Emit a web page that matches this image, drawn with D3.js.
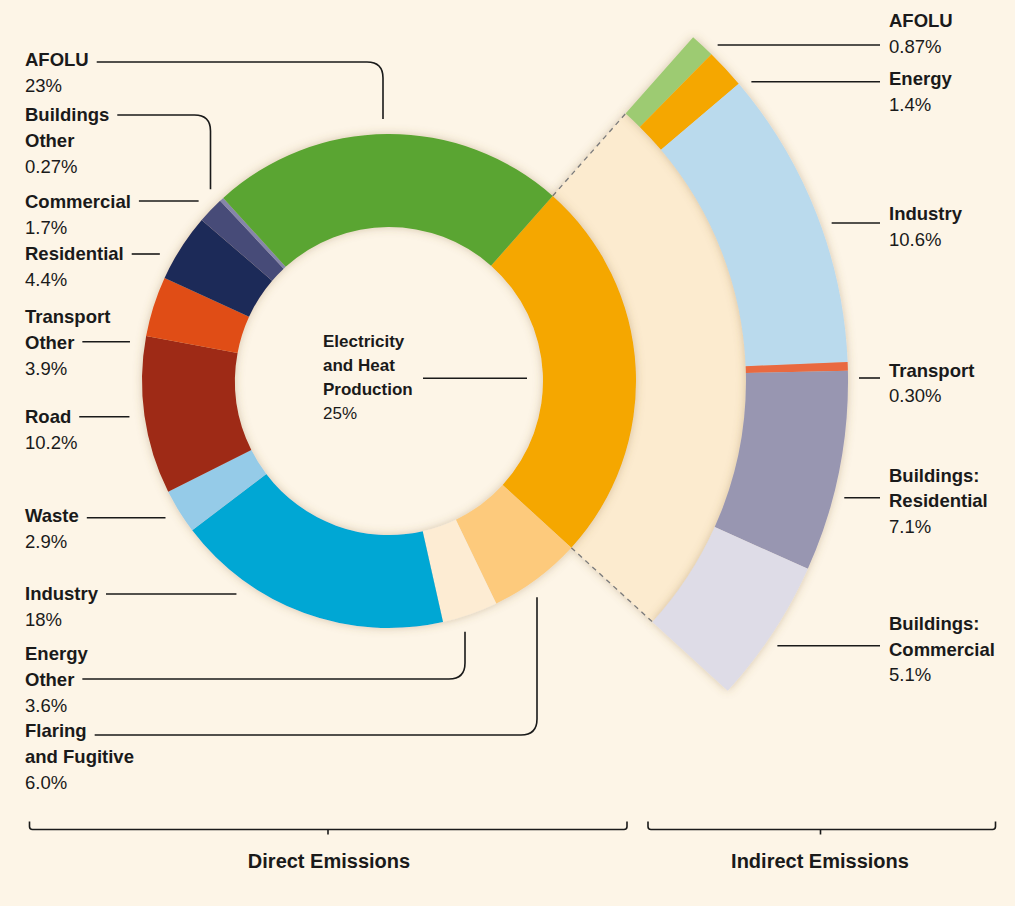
<!DOCTYPE html>
<html>
<head>
<meta charset="utf-8">
<script src="https://cdn.jsdelivr.net/npm/d3@7/dist/d3.min.js"></script>
<style>
  html, body { margin: 0; padding: 0; background: #ffffff; }
  svg { display: block; }
  text { font-family: "Liberation Sans", Arial, sans-serif; fill: #1a1a1a; }
</style>
</head>
<body>
<svg id="chart" width="1024" height="906"></svg>
<script>
// ---------------- DATA ----------------
const directCategories = ["Electricity and Heat Production", "Flaring and Fugitive", "Energy Other", "Industry", "Waste", "Road", "Transport Other", "Residential", "Commercial", "Buildings Other", "AFOLU"];
const directValues = [25, 6.0, 3.6, 18, 2.9, 10.2, 3.9, 4.4, 1.7, 0.27, 23];
const directValueLabels = ["25%", "6.0%", "3.6%", "18%", "2.9%", "10.2%", "3.9%", "4.4%", "1.7%", "0.27%", "23%"];

const indirectCategories = ["AFOLU", "Energy", "Industry", "Transport", "Buildings: Residential", "Buildings: Commercial"];
const indirectValues = [0.87, 1.4, 10.6, 0.30, 7.1, 5.1];
const indirectValueLabels = ["0.87%", "1.4%", "10.6%", "0.30%", "7.1%", "5.1%"];

const groupLabels = ["Direct Emissions", "Indirect Emissions"];

// ---------------- STYLE / LAYOUT ----------------
const directColors = {
  "Electricity and Heat Production": "#f5a700",
  "Flaring and Fugitive": "#fdca7c",
  "Energy Other": "#fdecd3",
  "Industry": "#00a7d4",
  "Waste": "#95cbe8",
  "Road": "#9e2b19",
  "Transport Other": "#e04e15",
  "Residential": "#1f2c59",
  "Commercial": "#474b78",
  "Buildings Other": "#8586aa",
  "AFOLU": "#5aa532"
};
const indirectColors = {
  "AFOLU": "#9dcb72",
  "Energy": "#f5a700",
  "Industry": "#badaed",
  "Transport": "#e9693f",
  "Buildings: Residential": "#9896b1",
  "Buildings: Commercial": "#dedce7"
};

// label layout: text lines, first baseline, leader line y, optional elbow x
const directLabelLayout = {
  "AFOLU": { lines: ["AFOLU"], y0: 65.7, ly: 62, elbowX: 383 },
  "Buildings Other": { lines: ["Buildings", "Other"], y0: 120.7, ly: 115, elbowX: 210.5 },
  "Commercial": { lines: ["Commercial"], y0: 208.3, ly: 201 },
  "Residential": { lines: ["Residential"], y0: 260, ly: 254 },
  "Transport Other": { lines: ["Transport", "Other"], y0: 322.7, ly: 341.7, attach: 1 },
  "Road": { lines: ["Road"], y0: 423.3, ly: 416.7 },
  "Waste": { lines: ["Waste"], y0: 522.3, ly: 517.7 },
  "Industry": { lines: ["Industry"], y0: 600, ly: 594 },
  "Energy Other": { lines: ["Energy", "Other"], y0: 660, ly: 679, attach: 1, elbowX: 465 },
  "Flaring and Fugitive": { lines: ["Flaring", "and Fugitive"], y0: 736.7, ly: 735, elbowX: 537 }
};
const centerLabelLayout = { lines: ["Electricity", "and Heat", "Production"], x: 323, y0: 346.7, lh: 24, ly: 378.3, lx1: 423, lx2: 527 };
const indirectLabelLayout = {
  "AFOLU": { lines: ["AFOLU"], y0: 27.3, ly: 45 },
  "Energy": { lines: ["Energy"], y0: 85, ly: 81.7 },
  "Industry": { lines: ["Industry"], y0: 220, ly: 223 },
  "Transport": { lines: ["Transport"], y0: 376.7, ly: 378 },
  "Buildings: Residential": { lines: ["Buildings:", "Residential"], y0: 481.7, ly: 497.7 },
  "Buildings: Commercial": { lines: ["Buildings:", "Commercial"], y0: 630, ly: 645.7 }
};

const W = 1024, H = 906;
const cx = 389, cy = 381;
const rIn = 154, rOut = 247, rBandOut = 357, rRingOut = 459;
const leftX = 25, rightX = 889;
const leftLH = 26, rightLH = 25.5;
const fsLabel = 18.5;

const svg = d3.select("#chart");

// background
svg.append("rect").attr("x", 0).attr("y", 0).attr("width", 1015).attr("height", H).attr("fill", "#fdf5e7");

// shadow filter
const defs = svg.append("defs");
const f = defs.append("filter").attr("id", "shadow").attr("x", "-20%").attr("y", "-20%").attr("width", "140%").attr("height", "140%");
f.append("feGaussianBlur").attr("in", "SourceAlpha").attr("stdDeviation", 5).attr("result", "blur");
f.append("feFlood").attr("flood-color", "#8a6a3a").attr("flood-opacity", 0.35).attr("result", "col");
f.append("feComposite").attr("in", "col").attr("in2", "blur").attr("operator", "in").attr("result", "sh");
const fm = f.append("feMerge");
fm.append("feMergeNode").attr("in", "sh");
fm.append("feMergeNode").attr("in", "SourceGraphic");

const g = svg.append("g").attr("transform", `translate(${cx},${cy})`);

// direct pie
const startA = 41.5 * Math.PI / 180;
const directData = directCategories.map((c, i) => ({ cat: c, value: directValues[i], label: directValueLabels[i] }));
const pie = d3.pie().sort(null).value(d => d.value).startAngle(startA).endAngle(startA + 2 * Math.PI);
const directArcs = pie(directData);
const elec = directArcs[0];

// tan band behind indirect ring
const bandArc = d3.arc().innerRadius(rOut).outerRadius(rBandOut);
g.append("path")
  .attr("d", bandArc({ startAngle: elec.startAngle, endAngle: elec.endAngle }))
  .attr("fill", "#fcebcf")
  .attr("filter", "url(#shadow)");

// indirect ring
const indirectData = indirectCategories.map((c, i) => ({ cat: c, value: indirectValues[i], label: indirectValueLabels[i] }));
const pie2 = d3.pie().sort(null).value(d => d.value).startAngle(elec.startAngle).endAngle(elec.endAngle);
const indirectArcs = pie2(indirectData);
const ringArc = d3.arc().innerRadius(rBandOut).outerRadius(rRingOut);
const ringG = g.append("g").attr("filter", "url(#shadow)");
ringG.selectAll("path").data(indirectArcs).join("path")
  .attr("d", ringArc)
  .attr("fill", d => indirectColors[d.data.cat]);

// dashed connectors
[elec.startAngle, elec.endAngle].forEach(a => {
  g.append("line")
    .attr("x1", rOut * Math.sin(a)).attr("y1", -rOut * Math.cos(a))
    .attr("x2", rBandOut * Math.sin(a)).attr("y2", -rBandOut * Math.cos(a))
    .attr("stroke", "#7a7a7a").attr("stroke-width", 1.3).attr("stroke-dasharray", "5,4.5");
});

// donut
const donutArc = d3.arc().innerRadius(rIn).outerRadius(rOut);
const donutG = g.append("g").attr("filter", "url(#shadow)");
donutG.selectAll("path").data(directArcs).join("path")
  .attr("d", donutArc)
  .attr("fill", d => directColors[d.data.cat]);

// ---------- labels ----------
const lineStroke = "#1a1a1a", lineW = 1.6;
function writeLabel(x, y0, lh, lines, pct, fs) {
  const t = svg.append("text").attr("x", x).attr("y", y0).style("font-size", fs + "px");
  lines.forEach((ln, i) => {
    t.append("tspan").attr("x", x).attr("y", y0 + i * lh).style("font-weight", "bold").text(ln);
  });
  t.append("tspan").attr("x", x).attr("y", y0 + lines.length * lh).style("font-weight", "normal").text(pct);
  return t;
}
function textWidth(str, fs, weight) {
  const tmp = svg.append("text").style("font-size", fs + "px").style("font-weight", weight).text(str);
  const w = tmp.node().getComputedTextLength();
  tmp.remove();
  return w;
}

const leaderR = 262;
directArcs.slice(1).forEach(d => {
  const L = directLabelLayout[d.data.cat];
  writeLabel(leftX, L.y0, leftLH, L.lines, d.data.label, fsLabel);
  const attach = L.attach || 0;
  const startX = leftX + textWidth(L.lines[attach], fsLabel, "bold") + 8;
  if (L.elbowX !== undefined) {
    const dxe = L.elbowX - cx;
    const dyE = Math.sqrt(leaderR * leaderR - dxe * dxe);
    const mid = (d.startAngle + d.endAngle) / 2;
    const below = Math.cos(mid) < 0;
    const yEnd = below ? cy + dyE : cy - dyE;
    const rc = 16;
    const sgn = below ? 1 : -1; // direction from end to label row
    const p = d3.path();
    p.moveTo(startX, L.ly);
    p.lineTo(L.elbowX - rc, L.ly);
    p.quadraticCurveTo(L.elbowX, L.ly, L.elbowX, L.ly - sgn * rc);
    p.lineTo(L.elbowX, yEnd);
    svg.append("path").attr("d", p.toString()).attr("fill", "none").attr("stroke", lineStroke).attr("stroke-width", lineW);
  } else {
    const dy = L.ly - cy;
    const xEnd = cx - Math.sqrt(leaderR * leaderR - dy * dy);
    svg.append("line").attr("x1", startX).attr("y1", L.ly).attr("x2", xEnd).attr("y2", L.ly)
      .attr("stroke", lineStroke).attr("stroke-width", lineW);
  }
});

// center label
const C = centerLabelLayout;
writeLabel(C.x, C.y0, C.lh, C.lines, elec.data.label, 17);
svg.append("line").attr("x1", C.lx1).attr("y1", C.ly).attr("x2", C.lx2).attr("y2", C.ly)
  .attr("stroke", lineStroke).attr("stroke-width", lineW);

// right labels
const rightLeaderR = 470;
indirectArcs.forEach(d => {
  const L = indirectLabelLayout[d.data.cat];
  writeLabel(rightX, L.y0, rightLH, L.lines, d.data.label, fsLabel);
  const dy = L.ly - cy;
  const xStart = cx + Math.sqrt(rightLeaderR * rightLeaderR - dy * dy);
  svg.append("line").attr("x1", xStart).attr("y1", L.ly).attr("x2", rightX - 9).attr("y2", L.ly)
    .attr("stroke", lineStroke).attr("stroke-width", lineW);
});

// brackets
function bracket(x1, x2, xm, y) {
  const p = d3.path();
  p.moveTo(x1, y - 8);
  p.lineTo(x1, y - 3);
  p.quadraticCurveTo(x1, y, x1 + 3, y);
  p.lineTo(x2 - 3, y);
  p.quadraticCurveTo(x2, y, x2, y - 3);
  p.lineTo(x2, y - 8);
  svg.append("path").attr("d", p.toString()).attr("fill", "none").attr("stroke", lineStroke).attr("stroke-width", 1.6);
  svg.append("line").attr("x1", xm).attr("y1", y).attr("x2", xm).attr("y2", y + 5)
    .attr("stroke", lineStroke).attr("stroke-width", 1.6);
}
bracket(29.5, 627, 328, 829.5);
bracket(648, 995.5, 820.5, 829.5);
svg.append("text").attr("x", 329).attr("y", 868).attr("text-anchor", "middle")
  .style("font-size", "20px").style("font-weight", "bold").text(groupLabels[0]);
svg.append("text").attr("x", 820).attr("y", 868).attr("text-anchor", "middle")
  .style("font-size", "20px").style("font-weight", "bold").text(groupLabels[1]);
</script>
</body>
</html>
